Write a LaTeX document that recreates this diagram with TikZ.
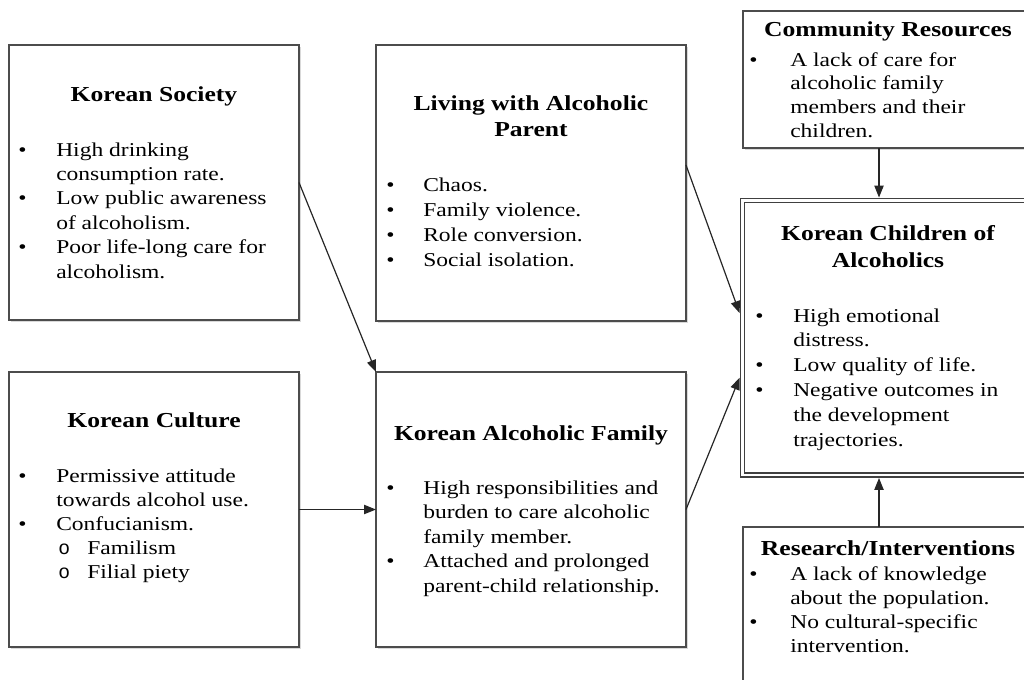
\documentclass[tikz,border=0pt]{standalone}
\usepackage{fontspec}
\setmainfont[FakeStretch=1.2]{Liberation Serif}
\newfontfamily\monof{Liberation Mono}
\usetikzlibrary{arrows.meta,shadows}
\newcommand\subo{\makebox[23.25pt][l]{\hspace{1.5pt}{\monof o}}}
\begin{document}
\begin{tikzpicture}[x=0.75pt,y=-0.75pt,
  box/.style={draw=black!70, line width=1.3pt, fill=white, inner sep=0pt, outer sep=0pt,
    drop shadow={shadow xshift=1.2pt,shadow yshift=-1.2pt,opacity=.3}},
  dbox/.style={draw=black!75, double=white, double distance=1.9pt, line width=1.2pt,
    inner sep=0pt, outer sep=2.2pt},
  ttl/.style={anchor=base, inner sep=0pt, font=\fontsize{16}{#1}\selectfont\bfseries},
  ttl/.default=19.5pt,
  lst/.style={anchor=base west, inner sep=0pt, font=\fontsize{14.7}{#1}\selectfont},
  arr/.style={draw=black!85, line width=0.9pt, -{Triangle[length=9pt,width=7pt]}}
]
\useasboundingbox (0,0) rectangle (1024,679);
\clip (0,0) rectangle (1024,679);

% boxes
\node[box, minimum width=217.5pt, minimum height=206.25pt] (soc) at (154,182.5) {};
\node[box, minimum width=217.5pt, minimum height=206.25pt] (cult) at (154,509.5) {};
\node[box, minimum width=232.5pt, minimum height=207pt] (liv) at (531,183) {};
\node[box, minimum width=232.5pt, minimum height=206.25pt] (fam) at (531,509.5) {};
\node[box, minimum width=217.5pt, minimum height=102.75pt] (comm) at (888,79.5) {};
\node[dbox, minimum width=219pt, minimum height=205.9pt] (child) at (888.5,337.75) {};
\node[box, minimum width=217.5pt, minimum height=144.75pt] (res) at (888,623.5) {};

% Korean Society
\node[ttl] (socT) at (154,101) {Korean Society};
\node[lst=18.3pt] (socL) at (18,156) {\begin{tabular}[t]{@{}p{28.5pt}@{}l@{}}
\textbullet & High drinking\\
 & consumption rate.\\
\textbullet & Low public awareness\\
 & of alcoholism.\\
\textbullet & Poor life-long care for\\
 & alcoholism.
\end{tabular}};

% Korean Culture
\node[ttl] (cultT) at (154,427) {Korean Culture};
\node[lst=18pt] (cultL) at (18,482) {\begin{tabular}[t]{@{}p{28.5pt}@{}l@{}}
\textbullet & Permissive attitude\\
 & towards alcohol use.\\
\textbullet & Confucianism.\\
 & \subo Familism\\
 & \subo Filial piety
\end{tabular}};

% Living with Alcoholic Parent
\node[ttl=19.5pt] (livT) at (531,110) {\begin{tabular}[t]{@{}c@{}}Living with Alcoholic\\Parent\end{tabular}};
\node[lst=18.9pt] (livL) at (386,191) {\begin{tabular}[t]{@{}p{27.75pt}@{}l@{}}
\textbullet & Chaos.\\
\textbullet & Family violence.\\
\textbullet & Role conversion.\\
\textbullet & Social isolation.
\end{tabular}};

% Korean Alcoholic Family
\node[ttl] (famT) at (531,440) {Korean Alcoholic Family};
\node[lst=18.4pt] (famL) at (386,494) {\begin{tabular}[t]{@{}p{27.75pt}@{}l@{}}
\textbullet & High responsibilities and\\
 & burden to care alcoholic\\
 & family member.\\
\textbullet & Attached and prolonged\\
 & parent-child relationship.
\end{tabular}};

% Community Resources
\node[ttl] (commT) at (888,36) {Community Resources};
\node[lst=17.8pt] (commL) at (749,66) {\begin{tabular}[t]{@{}p{30.75pt}@{}l@{}}
\textbullet & A lack of care for\\
 & alcoholic family\\
 & members and their\\
 & children.
\end{tabular}};

% Korean Children of Alcoholics
\node[ttl=20.25pt] (childT) at (888,240) {\begin{tabular}[t]{@{}c@{}}Korean Children of\\Alcoholics\end{tabular}};
\node[lst=18.6pt] (childL) at (755,322) {\begin{tabular}[t]{@{}p{28.5pt}@{}l@{}}
\textbullet & High emotional\\
 & distress.\\
\textbullet & Low quality of life.\\
\textbullet & Negative outcomes in\\
 & the development\\
 & trajectories.
\end{tabular}};

% Research/Interventions
\node[ttl] (resT) at (888,555) {Research/Interventions};
\node[lst=18.2pt] (resL) at (749,580) {\begin{tabular}[t]{@{}p{30.75pt}@{}l@{}}
\textbullet & A lack of knowledge\\
 & about the population.\\
\textbullet & No cultural-specific\\
 & intervention.
\end{tabular}};

% connectors
\coordinate (ax) at (879,0);
\draw[arr] (soc.east) -- (fam.north west);
\draw[arr] (cult.east) -- (fam.west);
\draw[arr] ([yshift=13.5pt]liv.east) -- ([yshift=18.5pt]child.west);
\draw[arr] (fam.east) -- ([yshift=-30pt]child.west);
\draw[arr] (comm.south -| ax) -- (child.north -| ax);
\draw[arr] (res.north -| ax) -- (child.south -| ax);
\end{tikzpicture}
\end{document}
